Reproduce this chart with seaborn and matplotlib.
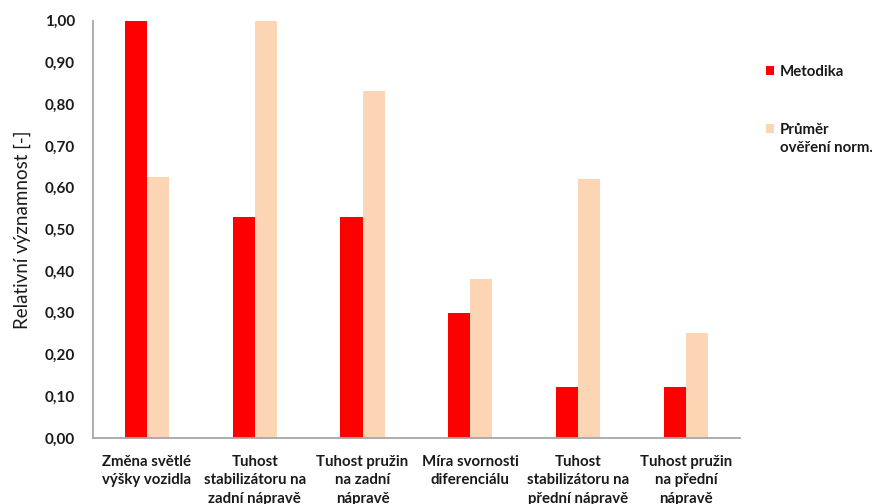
import numpy as np
import pandas as pd
import matplotlib
matplotlib.use("Agg")
import matplotlib.pyplot as plt
import seaborn as sns
from matplotlib.patches import Patch, Rectangle
from matplotlib.legend_handler import HandlerPatch

# Parameters (x-axis categories)
categories = [
    "Změna světlé\nvýšky vozidla",
    "Tuhost\nstabilizátoru na\nzadní nápravě",
    "Tuhost pružin\nna zadní\nnápravě",
    "Míra svornosti\ndiferenciálu",
    "Tuhost\nstabilizátoru na\npřední nápravě",
    "Tuhost pružin\nna přední\nnápravě",
]
series_names = ["Metodika", "Průměr\nověření norm."]
metodika = [1.00, 0.529, 0.529, 0.300, 0.122, 0.122]
prumer = [0.626, 1.00, 0.832, 0.382, 0.620, 0.252]
y_ticks = [0.0, 0.1, 0.2, 0.3, 0.4, 0.5, 0.6, 0.7, 0.8, 0.9, 1.0]
y_tick_labels = ["0,00", "0,10", "0,20", "0,30", "0,40", "0,50",
                 "0,60", "0,70", "0,80", "0,90", "1,00"]
y_label = "Relativní významnost [-]"
colors = ["#FF0000", "#FCD5B5"]

df = pd.DataFrame({
    "kategorie": categories * 2,
    "serie": [series_names[0]] * len(categories) + [series_names[1]] * len(categories),
    "hodnota": metodika + prumer,
})

sns.set_theme(style="white")
plt.rcParams["font.family"] = ["Lato", "DejaVu Sans"]

TEXT = "#1a1a1a"
FS = 10.8
LEG_LS = 1.4

fig = plt.figure(figsize=(8.72, 5.04), dpi=100)
ax = fig.add_axes([0.1066, 0.131, 0.742, 0.828])

sns.barplot(data=df, x="kategorie", y="hodnota", hue="serie",
            palette=colors, order=categories, hue_order=series_names,
            width=0.41, gap=0, linewidth=0, saturation=1, ax=ax, legend=False)

ax.set_ylim(0, 1.0)
ax.set_xlim(-0.5, len(categories) - 0.5)
ax.set_yticks(y_ticks)
ax.set_yticklabels(y_tick_labels, fontweight="bold", fontsize=11, color=TEXT)
ax.set_xticks(range(len(categories)))
ax.set_xticklabels(categories, fontweight="bold", fontsize=FS, color=TEXT,
                   linespacing=1.42, va="top")
ax.tick_params(axis="y", length=0, pad=13)
ax.tick_params(axis="x", length=0, pad=12)
ax.set_xlabel("")
ax.set_ylabel(y_label, fontsize=13.5, color=TEXT, labelpad=10)

for side in ["top", "right"]:
    ax.spines[side].set_visible(False)
for side in ["left", "bottom"]:
    ax.spines[side].set_color("#A6A6A6")
    ax.spines[side].set_linewidth(1.3)


def top_aligned_patch(legend, orig_handle, xdescent, ydescent, width, height, fontsize):
    # keep the swatch level with the first line of a two-line label
    return Rectangle((-xdescent, -ydescent + 0.5 * LEG_LS * fontsize), width, height)


handles = [Patch(facecolor=c, edgecolor="none") for c in colors]
leg = ax.legend(handles, series_names, loc="upper left",
                bbox_to_anchor=(0.878, 0.872), bbox_transform=fig.transFigure,
                frameon=False, prop={"weight": "bold", "size": FS},
                labelcolor=TEXT,
                handlelength=0.55, handleheight=0.55, handletextpad=0.4,
                labelspacing=2.95, borderaxespad=0, borderpad=0,
                handler_map={handles[1]: HandlerPatch(patch_func=top_aligned_patch)})
for t in leg.get_texts():
    t.set_linespacing(LEG_LS)

fig.savefig("out.png", dpi=100)
